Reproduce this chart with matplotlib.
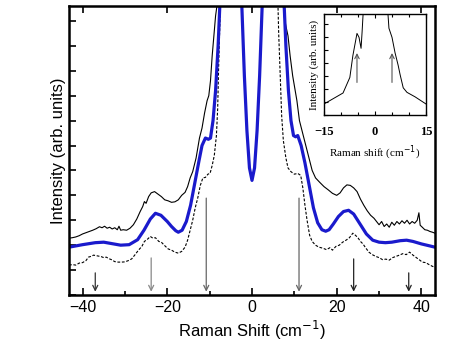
import matplotlib
matplotlib.use("Agg")
import matplotlib.pyplot as plt
from matplotlib.ticker import MultipleLocator

plt.rcParams['font.family'] = ['Liberation Sans', 'DejaVu Sans']

# main spectra (arbitrary units)
blue_x = [-43.2, -40, -37, -35, -33, -31, -29, -27, -25.5, -24, -22.8, -21.5, -20, -19, -18, -17.4,
          -16.5, -15.5, -14.5, -13.5, -12.5, -11.8, -11, -10.3, -9.8, -9.2, -8.6, -8.0, -7.5, -5,
          -3, -2.4, -1.8, -1.2, -0.6, 0, 0.6, 1.2, 1.8, 2.4, 3, 5, 7.5, 8.0, 8.6, 9.2, 9.8, 10.3,
          10.8, 11.6, 12.5, 13.5, 14.5, 15.5, 16.5, 17.4, 18.2, 19.2, 20.4, 21.6, 22.8, 24, 25.5,
          27, 28.5, 30, 31.5, 33, 35, 36.5, 38, 40, 43.2]
blue_y = [1.92, 2.02, 2.1, 2.12, 2.06, 2.0, 2.02, 2.22, 2.6, 3.05, 3.28, 3.2, 2.95, 2.75, 2.58, 2.52,
          2.6, 2.95, 3.6, 4.5, 5.4, 6.0, 6.3, 6.25, 6.3, 7.0, 8.2, 10.0, 12.0, 15,
          15, 11.6, 8.8, 6.6, 5.1, 4.6, 5.1, 6.6, 8.8, 11.6, 15, 15, 12.0, 10.0, 8.2, 7.0, 6.4, 6.35,
          6.4, 6.0, 5.3, 4.4, 3.5, 2.9, 2.62, 2.56, 2.62, 2.85, 3.15, 3.35, 3.4, 3.25, 2.85,
          2.45, 2.2, 2.12, 2.1, 2.12, 2.18, 2.2, 2.15, 2.05, 1.92]

solid_x = [-43.2, -42.4, -41.6, -40.8, -40.0, -39.2, -38.4, -37.6, -36.8, -36.0, -35.4, -34.8, -34.2,
           -33.6, -33.0, -32.4, -31.8, -31.4, -31.0, -30.4, -29.6, -28.8, -28.0, -27.2, -26.4,
           -25.8, -25.4, -25.0, -24.4, -23.8, -23.0, -22.2, -21.4, -20.6, -19.8, -19.0, -18.2,
           -17.4, -16.6, -15.8, -15.2, -14.6, -14.0, -13.2, -12.4, -11.8, -11.2, -10.6, -10.2,
           -9.8, -9.4, -9.0, -8.6, -8.2, -7.8, -5, 0, 5, 7.2, 7.6, 8.0, 8.5, 9.0, 9.6, 10.0, 10.6,
           11.2, 11.8, 12.4, 13.0, 13.6, 14.2, 15.0, 16.0, 17.0, 18.0, 19.0, 20.0, 20.8, 21.6,
           22.4, 23.2, 24.0, 24.8, 25.6, 26.4, 27.2, 28.0, 28.8, 29.4, 30.0, 30.6, 31.2, 31.8,
           32.4, 33.0, 33.6, 34.2, 34.8, 35.4, 36.0, 36.6, 37.2, 37.8, 38.4, 39.0, 39.4, 39.7,
           40.2, 40.8, 41.4, 42.0, 42.6, 43.2]
solid_y = [2.28, 2.3, 2.33, 2.38, 2.45, 2.5, 2.55, 2.6, 2.66, 2.74, 2.7, 2.76, 2.68,
           2.72, 2.65, 2.7, 2.62, 2.76, 2.6, 2.62, 2.6, 2.68, 2.82, 3.05, 3.35,
           3.55, 3.75, 3.68, 3.95, 4.1, 4.15, 4.05, 3.95, 3.82, 3.78, 3.72, 3.74,
           3.82, 4.0, 4.12, 4.35, 4.7, 4.95, 5.5, 6.3, 6.7, 7.3, 7.8, 8.0,
           8.6, 9.6, 10.4, 11.2, 11.7, 12.5, 15, 15, 15, 12.0, 11.2, 10.8, 10.4, 9.6, 8.8, 8.4, 7.8,
           7.0, 6.6, 6.2, 5.8, 5.4, 5.0, 4.7, 4.52, 4.35, 4.22, 4.08, 4.0, 4.1, 4.3,
           4.42, 4.4, 4.3, 4.15, 3.85, 3.6, 3.38, 3.2, 3.08, 2.95, 2.82, 2.95, 2.75, 2.85,
           2.72, 2.92, 2.8, 2.95, 2.85, 2.98, 2.88, 3.0, 2.85, 2.95, 2.88, 3.0, 3.3, 2.8,
           2.72, 2.62, 2.6, 2.55, 2.52, 2.48]

dash_x = [-43.2, -42.4, -41.6, -40.8, -40.0, -39.2, -38.6, -38.0, -37.4, -36.8, -36.2, -35.6, -35.0,
          -34.4, -33.8, -33.2, -32.4, -31.6, -30.8, -30.0, -29.2, -28.4, -27.6, -26.8, -26.0,
          -25.4, -24.6, -24.0, -23.4, -22.8, -22.0, -21.4, -20.6, -19.8, -19.0, -18.2, -17.4,
          -16.6, -15.8, -15.2, -14.6, -14.0, -13.4, -12.8, -12.2, -11.6, -11.0, -10.4, -9.9,
          -9.4, -8.9, -8.4, -8.1, -7.9, -7.6, -7.3, -5, 0, 5, 6.0, 6.3, 6.6, 7.0, 7.4, 8.0, 8.5,
          9.2, 10.0, 10.8, 11.5, 12.0, 12.5, 13.0, 13.6, 14.2, 15.0, 15.8, 16.7, 17.6, 18.4,
          19.0, 19.8, 20.6, 21.4, 22.2, 23.0, 23.8, 24.4, 25.0, 25.6, 26.2, 26.8, 27.6, 28.4,
          29.2, 30.0, 30.8, 31.6, 32.4, 33.2, 34.0, 34.8, 35.6, 36.4, 37.2, 38.0, 38.8, 39.6,
          40.2, 41.0, 41.8, 42.6, 43.2]
dash_y = [1.2, 1.22, 1.2, 1.28, 1.3, 1.38, 1.52, 1.55, 1.6, 1.58, 1.56, 1.54, 1.5,
          1.52, 1.46, 1.42, 1.34, 1.32, 1.32, 1.33, 1.38, 1.45, 1.62, 1.8, 1.95,
          2.15, 2.25, 2.35, 2.28, 2.3, 2.15, 2.12, 1.98, 1.85, 1.8, 1.72, 1.68,
          1.75, 1.92, 2.2, 2.6, 3.0, 3.5, 3.9, 4.4, 4.7, 4.72, 4.85, 4.88,
          5.2, 5.6, 6.4, 7.5, 9.0, 10.8, 12.5, 15, 15, 15, 12.5, 10.5, 9.1, 7.2, 6.2, 5.5, 5.1,
          4.95, 4.85, 4.88, 4.8, 4.3, 3.6, 3.0, 2.4, 2.15, 2.0, 1.92, 1.88, 1.82, 1.9,
          1.8, 1.95, 2.0, 2.12, 2.2, 2.3, 2.48, 2.4, 2.3, 2.15, 2.05, 1.9, 1.72, 1.62,
          1.55, 1.5, 1.42, 1.44, 1.4, 1.5, 1.55, 1.6, 1.66, 1.62, 1.72, 1.6, 1.5, 1.4,
          1.32, 1.3, 1.22, 1.15, 1.12]

# arrows marking the modes
arrow_x = [-37, -23.8, -10.8, 11.1, 24, 37]
arrow_top = [1.0, 1.6, 4.0, 4.0, 1.56, 1.0]
arrow_col = ['#333333', '#888888', '#666666', '#666666', '#222222', '#222222']

# inset spectrum
ins_x = [-15, -9.4, -7.4, -6.5, -5.3, -4.7, -4.1, -3.8, -3.5, -3.0, 3.5, 4.1, 5.0, 5.9, 6.8, 7.4,
         8.3, 9.4, 11.8, 15]
ins_y = [0.85, 1.7, 2.9, 4.6, 6.3, 6.0, 5.15, 6.4, 7.8, 9.0, 9.0, 6.7, 6.0, 4.8, 3.85, 3.1,
         2.1, 1.75, 1.4, 0.85]
ins_arrow_x = [-5.3, 5.0]

serif = ['Liberation Serif', 'DejaVu Serif']

fig = plt.figure(figsize=(4.72, 3.55), dpi=100)
ax = fig.add_axes([69 / 472, 1 - 295 / 355, 366 / 472, 289 / 355])

ax.plot(solid_x, solid_y, color='black', lw=0.8)
ax.plot(dash_x, dash_y, color='black', lw=0.8, ls=(0, (2.5, 1.5)))
ax.plot(blue_x, blue_y, color='#1a1acc', lw=2.3)

for x, t, c in zip(arrow_x, arrow_top, arrow_col):
    ax.annotate('', xy=(x, 0.02), xytext=(x, t),
                arrowprops=dict(arrowstyle='->', color=c, lw=0.9, mutation_scale=9))

ax.set_xlim(-43.2, 43.2)
ax.set_ylim(0, 11.6)
ax.xaxis.set_major_locator(MultipleLocator(20))
ax.xaxis.set_minor_locator(MultipleLocator(10))
ax.yaxis.set_major_locator(MultipleLocator(1))
ax.set_yticklabels([])
ax.tick_params(axis='both', which='both', direction='in', width=1.2)
ax.tick_params(axis='x', which='major', length=5, top=True, labelsize=11.5)
ax.tick_params(axis='x', which='minor', length=3)
ax.tick_params(axis='y', which='major', length=5, left=True, right=False)
for s in ax.spines.values():
    s.set_linewidth(1.8)
ax.set_xlabel('Raman Shift (cm$^{-1}$)', fontsize=12, labelpad=3)
ax.set_ylabel('Intensity (arb. units)', fontsize=12, labelpad=-1)

# inset
ai = fig.add_axes([324 / 472, 1 - 115 / 355, 102 / 472, 101 / 355])
ai.plot(ins_x, ins_y, color='black', lw=0.7)
for x in ins_arrow_x:
    ai.annotate('', xy=(x, 5.0), xytext=(x, 2.3),
                arrowprops=dict(arrowstyle='->', color='#555555', lw=0.8, mutation_scale=8))
ai.set_xlim(-15, 15)
ai.set_ylim(0, 7.8)
ai.set_xticks([-15, 0, 15])
ai.xaxis.set_minor_locator(MultipleLocator(5))
ai.yaxis.set_major_locator(MultipleLocator(1))
ai.set_yticklabels([])
ai.tick_params(axis='both', which='both', direction='in', width=0.8, top=True)
ai.tick_params(axis='x', which='major', length=3, labelsize=9, pad=8)
ai.tick_params(axis='x', which='minor', length=2)
ai.tick_params(axis='y', which='major', length=3)
for lab in ai.get_xticklabels():
    lab.set_family(serif)
    lab.set_fontweight('bold')
for s in ai.spines.values():
    s.set_linewidth(1.0)
ai.set_xlabel('Raman shift (cm$^{-1}$)', fontsize=8, family=serif, labelpad=4)
ai.set_ylabel('Intensity (arb. units)', fontsize=8, family=serif, labelpad=0)

fig.savefig('out.png', dpi=100)
